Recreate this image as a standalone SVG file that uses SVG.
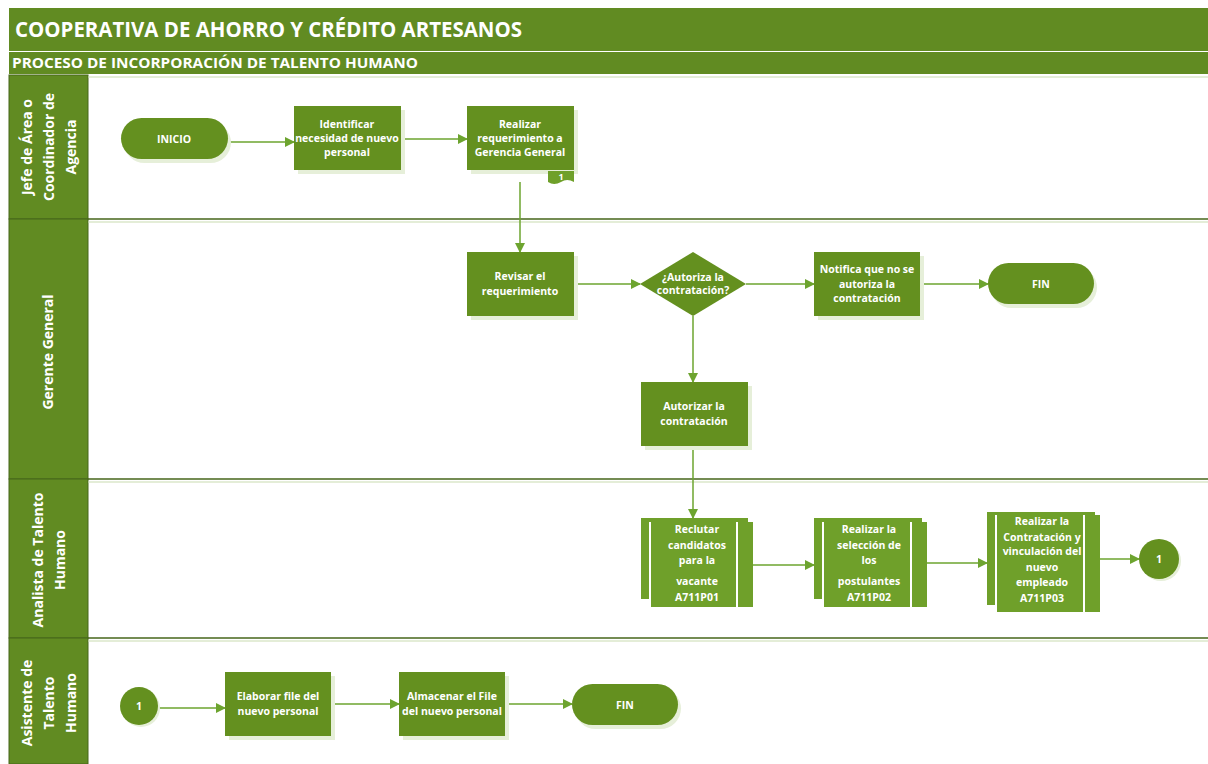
<svg xmlns="http://www.w3.org/2000/svg" width="1208" height="764" viewBox="0 0 1208 764">
<defs>
<style>
.hdr{fill:#618B22}
.lane{fill:#618B22;stroke:#46661A;stroke-width:1}
.ln{stroke:#46661A;stroke-width:1.5}
.ln2{stroke:#C9DBB0;stroke-width:1}
.n{fill:#64901F}
.sh{fill:#E6EFD9}
.sub{fill:#6FA02A}
.wl{stroke:#FFFFFF;stroke-width:2}
.t{font-family:"Open Sans","Liberation Sans",sans-serif;font-weight:bold;fill:#FFFFFF;text-anchor:middle}
.nt{font-size:10.5px}
.lt{font-size:14px}
.c{stroke:#6DA42F;stroke-width:1.5;fill:none;marker-end:url(#ah)}
</style>
<marker id="ah" markerWidth="10" markerHeight="10" refX="9" refY="5" orient="auto" markerUnits="userSpaceOnUse">
<path d="M0,0 L10,5 L0,10 Z" fill="#6DA42F"/>
</marker>
</defs>
<rect width="1208" height="764" fill="#FFFFFF"/>
<!-- headers -->
<g id="header">
<rect class="hdr" x="9" y="8" width="1199" height="43"/>
<text class="t" x="15" y="37" font-size="21" style="text-anchor:start" textLength="507" lengthAdjust="spacingAndGlyphs">COOPERATIVA DE AHORRO Y CRÉDITO ARTESANOS</text>
<rect class="hdr" x="9" y="52" width="1199" height="22"/>
<text class="t" x="12" y="68" font-size="14" style="text-anchor:start" textLength="406" lengthAdjust="spacingAndGlyphs">PROCESO DE INCORPORACIÓN DE TALENTO HUMANO</text>
</g>
<!-- lanes -->
<g id="lanes">
<rect class="lane" x="9" y="75" width="79" height="144"/>
<rect class="lane" x="9" y="219" width="79" height="260"/>
<rect class="lane" x="9" y="479" width="79" height="159"/>
<rect class="lane" x="9" y="638" width="79" height="126"/>
<line class="ln2" x1="88" y1="77" x2="1208" y2="77"/>
<line class="ln" x1="88" y1="219" x2="1208" y2="219"/>
<line class="ln2" x1="88" y1="222" x2="1208" y2="222"/>
<line class="ln" x1="88" y1="479" x2="1208" y2="479"/>
<line class="ln2" x1="88" y1="482" x2="1208" y2="482"/>
<line class="ln" x1="88" y1="638" x2="1208" y2="638"/>
<line class="ln2" x1="88" y1="641" x2="1208" y2="641"/>
<text class="t lt" transform="translate(32,147) rotate(-90)">Jefe de Área o</text>
<text class="t lt" transform="translate(54,147) rotate(-90)">Coordinador de</text>
<text class="t lt" transform="translate(76,147) rotate(-90)">Agencia</text>
<text class="t lt" transform="translate(53,352) rotate(-90)">Gerente General</text>
<text class="t lt" transform="translate(43,560) rotate(-90)">Analista de Talento</text>
<text class="t lt" transform="translate(65,560) rotate(-90)">Humano</text>
<text class="t lt" transform="translate(32,703) rotate(-90)">Asistente de</text>
<text class="t lt" transform="translate(54,703) rotate(-90)">Talento</text>
<text class="t lt" transform="translate(76,703) rotate(-90)">Humano</text>
</g>
<!-- connectors -->
<g id="connectors">
<path class="c" d="M228,142 H294"/>
<path class="c" d="M401,139 H467"/>
<path class="c" d="M520,182 V252"/>
<path class="c" d="M574,284 H640"/>
<path class="c" d="M746,284 H814"/>
<path class="c" d="M920,284 H988"/>
<path class="c" d="M693,316 V382"/>
<path class="c" d="M693,446 V518"/>
<path class="c" d="M753,565 H814"/>
<path class="c" d="M927,563 H987"/>
<path class="c" d="M1100,559 H1139"/>
<path class="c" d="M158,708 H225"/>
<path class="c" d="M331,704 H399"/>
<path class="c" d="M505,704 H572"/>
</g>
<!-- lane 1 -->
<g id="inicio">
<rect class="sh" x="124" y="122" width="107" height="41" rx="20.5"/>
<rect class="n" x="121" y="118" width="107" height="41" rx="20.5"/>
<text class="t nt" x="174" y="143">INICIO</text>
</g>
<g id="identificar">
<rect class="sh" x="298" y="110" width="107" height="64"/>
<rect class="n" x="294" y="106" width="107" height="64"/>
<text class="t nt" x="347" y="128">Identificar</text>
<text class="t nt" x="347" y="142">necesidad de nuevo</text>
<text class="t nt" x="347" y="156">personal</text>
</g>
<g id="realizar-req">
<rect class="sh" x="471" y="110" width="107" height="64"/>
<rect class="n" x="467" y="106" width="107" height="64"/>
<text class="t nt" x="520" y="128">Realizar</text>
<text class="t nt" x="520" y="142">requerimiento a</text>
<text class="t nt" x="520" y="156">Gerencia General</text>
<path d="M548,171 H574 V182 Q567,178 561,182 Q554,186 548,182 Z" fill="#6FA02A"/>
<text class="t" x="561" y="180" font-size="9">1</text>
</g>
<!-- lane 2 -->
<g id="revisar">
<rect class="sh" x="471" y="256" width="107" height="64"/>
<rect class="n" x="467" y="252" width="107" height="64"/>
<text class="t nt" x="520" y="280">Revisar el</text>
<text class="t nt" x="520" y="295">requerimiento</text>
</g>
<g id="decision">
<polygon class="n" points="693,252 746,284 693,316 640,284"/>
<text class="t nt" x="693" y="281">¿Autoriza la</text>
<text class="t nt" x="693" y="294">contratación?</text>
</g>
<g id="notifica">
<rect class="sh" x="818" y="256" width="106" height="64"/>
<rect class="n" x="814" y="252" width="106" height="64"/>
<text class="t nt" x="867" y="273">Notifica que no se</text>
<text class="t nt" x="867" y="288">autoriza la</text>
<text class="t nt" x="867" y="302">contratación</text>
</g>
<g id="fin1">
<rect class="sh" x="991" y="267" width="106" height="41" rx="20.5"/>
<rect class="n" x="988" y="263" width="106" height="41" rx="20.5"/>
<text class="t nt" x="1041" y="288">FIN</text>
</g>
<g id="autorizar">
<rect class="sh" x="645" y="386" width="107" height="64"/>
<rect class="n" x="641" y="382" width="107" height="64"/>
<text class="t nt" x="694" y="410">Autorizar la</text>
<text class="t nt" x="694" y="425">contratación</text>
</g>
<!-- lane 3 -->
<g id="reclutar">
<rect class="sub" x="641" y="518" width="107" height="81"/>
<rect class="sub" x="650" y="522" width="103" height="85"/>
<line class="wl" x1="650" y1="522" x2="650" y2="607"/>
<line class="wl" x1="737" y1="522" x2="737" y2="607"/>
<text class="t nt" x="697" y="533">Reclutar</text>
<text class="t nt" x="697" y="549">candidatos</text>
<text class="t nt" x="697" y="564">para la</text>
<text class="t nt" x="697" y="585">vacante</text>
<text class="t nt" x="697" y="601">A711P01</text>
</g>
<g id="seleccion">
<rect class="sub" x="814" y="518" width="108" height="81"/>
<rect class="sub" x="823" y="522" width="104" height="85"/>
<line class="wl" x1="823" y1="522" x2="823" y2="607"/>
<line class="wl" x1="911" y1="522" x2="911" y2="607"/>
<text class="t nt" x="869" y="533">Realizar la</text>
<text class="t nt" x="869" y="549">selección de</text>
<text class="t nt" x="869" y="564">los</text>
<text class="t nt" x="869" y="585">postulantes</text>
<text class="t nt" x="869" y="601">A711P02</text>
</g>
<g id="contratacion">
<rect class="sub" x="987" y="512" width="108" height="93"/>
<rect class="sub" x="996" y="515" width="104" height="97"/>
<line class="wl" x1="996" y1="515" x2="996" y2="612"/>
<line class="wl" x1="1084" y1="515" x2="1084" y2="612"/>
<text class="t nt" x="1042" y="525">Realizar la</text>
<text class="t nt" x="1042" y="541">Contratación y</text>
<text class="t nt" x="1042" y="555">vinculación del</text>
<text class="t nt" x="1042" y="571">nuevo</text>
<text class="t nt" x="1042" y="586">empleado</text>
<text class="t nt" x="1042" y="602">A711P03</text>
</g>
<g id="conector1a">
<circle class="sh" cx="1161" cy="561" r="20"/>
<circle class="n" cx="1159" cy="559" r="20"/>
<text class="t nt" x="1159" y="563">1</text>
</g>
<!-- lane 4 -->
<g id="conector1b">
<circle class="sh" cx="141" cy="708" r="19"/>
<circle class="n" cx="139" cy="706" r="19"/>
<text class="t nt" x="139" y="710">1</text>
</g>
<g id="elaborar">
<rect class="sh" x="229" y="676" width="106" height="64"/>
<rect class="n" x="225" y="672" width="106" height="64"/>
<text class="t nt" x="278" y="700">Elaborar file del</text>
<text class="t nt" x="278" y="715">nuevo personal</text>
</g>
<g id="almacenar">
<rect class="sh" x="403" y="676" width="106" height="64"/>
<rect class="n" x="399" y="672" width="106" height="64"/>
<text class="t nt" x="452" y="700">Almacenar el File</text>
<text class="t nt" x="452" y="715">del nuevo personal</text>
</g>
<g id="fin2">
<rect class="sh" x="575" y="688" width="106" height="41" rx="20.5"/>
<rect class="n" x="572" y="684" width="106" height="41" rx="20.5"/>
<text class="t nt" x="625" y="709">FIN</text>
</g>
</svg>
